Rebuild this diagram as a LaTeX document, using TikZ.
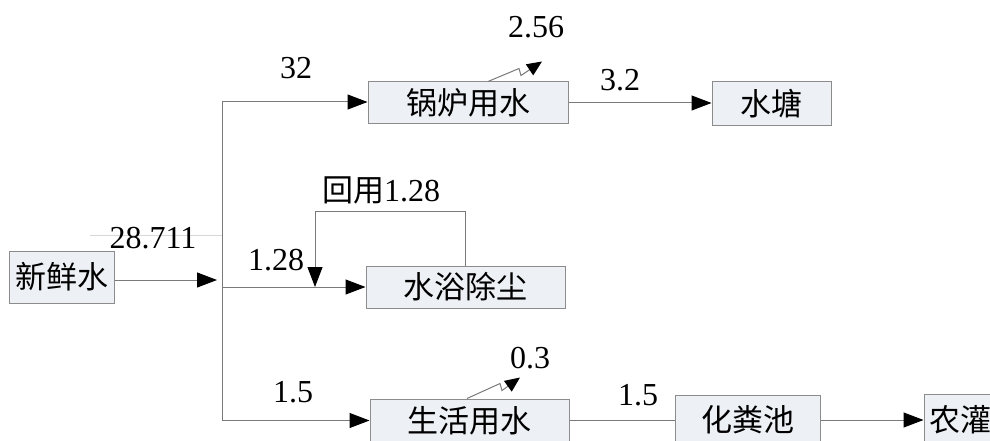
\documentclass[tikz,border=0pt]{standalone}
\usepackage{fontspec}
\setmainfont{Liberation Serif}
\newfontfamily\cjk{Noto Sans CJK SC}
\usetikzlibrary{arrows.meta,calc}
\definecolor{boxfill}{HTML}{EDF0F5}
\definecolor{boxline}{HTML}{8C8C8C}
\definecolor{ln}{HTML}{7A7A7A}
\definecolor{faint}{HTML}{D8D8D8}
\tikzset{
  box/.style={draw=boxline, fill=boxfill, line width=1pt, inner sep=0pt,
    font=\cjk\fontsize{31}{33}\selectfont},
  conn/.style={draw=ln, line width=1pt},
  arr/.style={conn, -{Triangle[length=20pt,width=15pt,fill=black,color=black]}},
  sarr/.style={conn, -{Triangle[length=15pt,width=13pt,fill=black,color=black]}},
  num/.style={font=\fontsize{32}{34}\selectfont, inner sep=0pt}
}
\begin{document}
\begin{tikzpicture}[x=1pt,y=-1pt]
\clip (0,0) rectangle (990,441);
\fill[white] (0,0) rectangle (990,441);

% boxes
\node[box, minimum width=105pt, minimum height=52pt] (xin) at (61.5,277) {新鲜水};
\node[box, minimum width=200pt, minimum height=42pt] (boiler) at (468,103) {锅炉用水};
\node[box, minimum width=119pt, minimum height=44pt] (pond) at (771.5,104) {水塘};
\node[box, minimum width=199pt, minimum height=42pt] (dust) at (465.5,287) {水浴除尘};
\node[box, minimum width=199pt, minimum height=43pt] (living) at (469.5,420.5) {生活用水};
\node[box, minimum width=145pt, minimum height=50pt] (septic) at (747.5,420) {化粪池};
\node[box, minimum width=110pt, minimum height=52pt, text width=100pt, align=left] (farm) at (979,420) {农灌};

% trunk
\coordinate (ttop) at (222,102);
\coordinate (tmid) at (222,287);
\coordinate (tbot) at (222,420.5);
\coordinate (tin) at (217,280);
\draw[conn] (tbot) -- (ttop);
\draw[arr] (xin.east |- tin) -- (tin);
\draw[arr] (ttop) -- (boiler.west |- ttop);
\draw[arr] (tmid) -- (dust.west);
\draw[arr] (tbot) -- (living.west);

% faint line
\coordinate (g1) at (90,235);
\coordinate (g2) at (222,235);
\draw[draw=faint, line width=0.9pt] (g1) -- (g2);

% recycle loop
\coordinate (rc) at (315,211);
\draw[arr] (dust.north) |- (rc) -- (rc |- tmid);

% outputs
\draw[arr] (boiler.east) -- (pond.west |- boiler.east);
\draw[conn] (living.east) -- (septic.west |- living.east);
\draw[arr] (septic.east) -- (farm.west |- septic.east);

% loss squiggles
\draw[sarr] ($(boiler.north)+(20,0)$) -- ++(31,-13) -- ++(2,7) -- ++(21,-14);
\draw[sarr] ($(living.north)+(-2.5,0)$) -- ++(33,-15) -- ++(2,7) -- ++(18,-13);

% labels
\node[num] (l32) at (296,68) {32};
\node[num] (l256) at (536,27) {2.56};
\node[num] (l32b) at (620,80) {3.2};
\node[num] (l28711) at (153,238) {28.711};
\node[num] (l128) at (276,260) {1.28};
\node[num] (lhy) at (381,190) {{\cjk\fontsize{31}{33}\selectfont 回用}1.28};
\node[num] (l03) at (530,358) {0.3};
\node[num] (l15a) at (293,392) {1.5};
\node[num] (l15b) at (638,395) {1.5};
\end{tikzpicture}
\end{document}
